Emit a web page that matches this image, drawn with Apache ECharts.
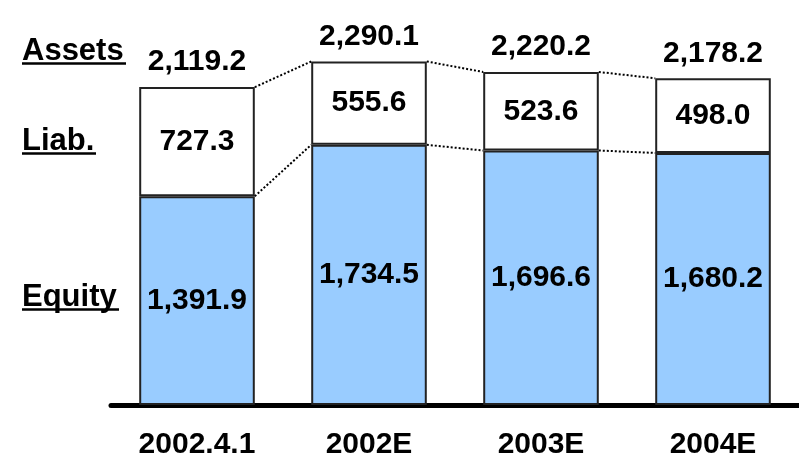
<!DOCTYPE html>
<html>
<head>
<meta charset="utf-8">
<script src="https://cdn.jsdelivr.net/npm/echarts@6/dist/echarts.min.js"></script>
<style>
  html, body { margin: 0; padding: 0; background: #fff; }
  #chart { width: 799px; height: 460px; }
</style>
</head>
<body>
<div id="chart"></div>
<script>
var categories = ['2002.4.1', '2002E', '2003E', '2004E'];
var equity = [1391.9, 1734.5, 1696.6, 1680.2];
var liab = [727.3, 555.6, 523.6, 498.0];
var assets = [2119.2, 2290.1, 2220.2, 2178.2];

var FONT = '"Liberation Sans", Arial, sans-serif';
var BAR_W = 0.672; // share of category band

function fmt(v) {
  return v.toLocaleString('en-US', { minimumFractionDigits: 1, maximumFractionDigits: 1 });
}

var myChart = echarts.init(document.getElementById('chart'), null, { renderer: 'canvas' });

// dotted connectors between bar corners + total labels above bars
function renderLinks(params, api) {
  var i = api.value(0);
  var band = api.size([1, 0])[0];
  var hw = band * BAR_W / 2;
  var top = api.coord([i, assets[i]]);
  var children = [{
    type: 'text',
    style: {
      text: fmt(assets[i]),
      x: top[0], y: top[1] - 25,
      align: 'center', verticalAlign: 'middle',
      font: 'bold 30px ' + FONT, fill: '#000'
    }
  }];
  if (i < categories.length - 1) {
    var nTop = api.coord([i + 1, assets[i + 1]]);
    var eq = api.coord([i, equity[i]]);
    var nEq = api.coord([i + 1, equity[i + 1]]);
    var dotted = { stroke: '#000', lineWidth: 2, lineDash: [2, 2] };
    children.push({
      type: 'line',
      shape: { x1: top[0] + hw, y1: top[1], x2: nTop[0] - hw, y2: nTop[1] },
      style: dotted
    });
    children.push({
      type: 'line',
      shape: { x1: eq[0] + hw, y1: eq[1], x2: nEq[0] - hw, y2: nEq[1] },
      style: dotted
    });
  }
  return { type: 'group', children: children };
}

function sideLabel(text, x, baseline, lineEnd) {
  return [{
    type: 'text', left: x, top: baseline - 25,
    style: { text: text, font: 'bold 31px ' + FONT, fill: '#000' }
  }, {
    type: 'line',
    shape: { x1: x, y1: baseline + 2.5, x2: lineEnd, y2: baseline + 2.5 },
    style: { stroke: '#000', lineWidth: 2.5 }
  }];
}

var option = {
  animation: false,
  backgroundColor: '#fff',
  grid: { left: 111, width: 690, top: 0, height: 407 },
  xAxis: {
    type: 'category',
    data: categories,
    axisLine: { show: true, lineStyle: { color: '#000', width: 5 } },
    axisTick: { show: false },
    axisLabel: { color: '#000', fontSize: 30, fontWeight: 'bold', fontFamily: FONT, margin: 25 }
  },
  yAxis: {
    type: 'value', min: 0, max: 2700,
    show: false, splitLine: { show: false }
  },
  graphic: [].concat(
    sideLabel('Assets', 22, 61, 126),
    sideLabel('Liab.', 22, 151, 96),
    sideLabel('Equity', 22, 307, 119)
  ),
  series: [
    {
      name: 'Equity', type: 'bar', stack: 'bs', barWidth: (BAR_W * 100) + '%',
      data: equity,
      itemStyle: { color: '#99CCFF', borderColor: '#222', borderWidth: 2 },
      label: {
        show: true, position: 'inside', color: '#000',
        fontSize: 30, fontWeight: 'bold', fontFamily: FONT,
        formatter: function (p) { return fmt(p.value); }
      }
    },
    {
      name: 'Liab.', type: 'bar', stack: 'bs',
      data: liab,
      itemStyle: { color: '#fff', borderColor: '#222', borderWidth: 2 },
      label: {
        show: true, position: 'inside', color: '#000',
        fontSize: 30, fontWeight: 'bold', fontFamily: FONT,
        formatter: function (p) { return fmt(p.value); }
      }
    },
    {
      type: 'custom',
      renderItem: renderLinks,
      data: categories.map(function (c, i) { return [i, assets[i]]; }),
      z: 5
    }
  ]
};

myChart.setOption(option);
</script>
</body>
</html>
